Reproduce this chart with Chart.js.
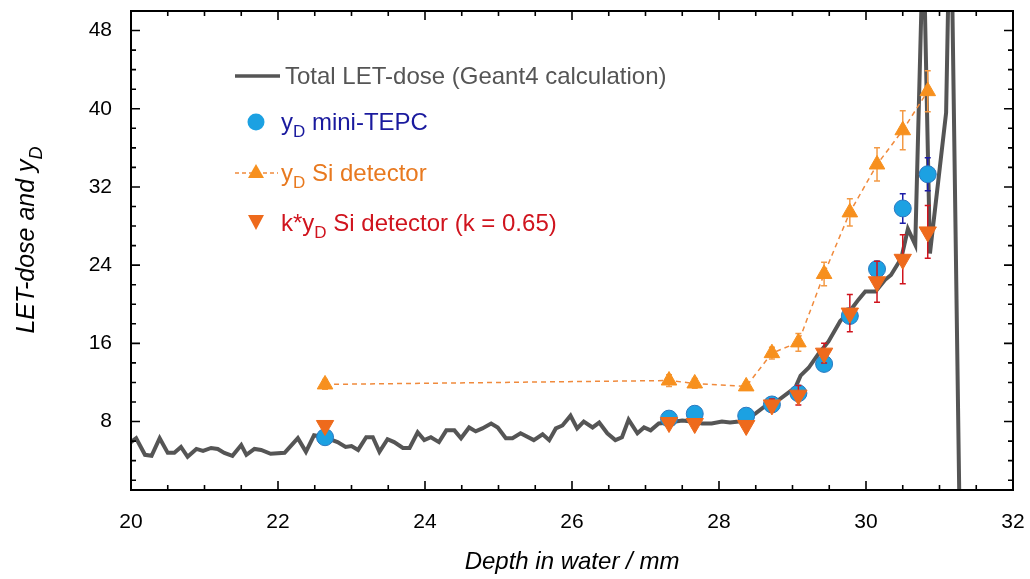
<!DOCTYPE html>
<html lang="en">
<head>
  <meta charset="UTF-8">
  <title>LET-dose and yD vs depth</title>
  <script src="https://cdn.jsdelivr.net/npm/chart.js"></script>
  <style>
    body { margin: 0; background: #fff; }
    canvas { display: block; }
  </style>
</head>
<body>
<canvas id="myChart" width="1030" height="579"></canvas>

<script>
  // Geant4 total LET-dose curve
  const letDepth = [
    20.00, 20.07, 20.19, 20.28, 20.39, 20.50, 20.59, 20.68, 20.77, 20.89,
    20.98, 21.09, 21.18, 21.27, 21.38, 21.50, 21.57, 21.68, 21.77, 21.90,
    22.09, 22.27, 22.38, 22.49, 22.63, 22.81, 22.92, 23.00, 23.09, 23.20,
    23.29, 23.38, 23.49, 23.58, 23.70, 23.79, 23.90, 23.99, 24.08, 24.19,
    24.29, 24.40, 24.49, 24.60, 24.69, 24.78, 24.90, 24.99, 25.10, 25.19,
    25.30, 25.48, 25.60, 25.69, 25.78, 25.87, 25.98, 26.07, 26.16, 26.28,
    26.37, 26.48, 26.59, 26.68, 26.77, 26.89, 26.98, 27.07, 27.18, 27.32,
    27.50, 27.63, 27.77, 27.90, 28.04, 28.15, 28.27, 28.49, 28.63, 28.81,
    29.04, 29.11, 29.22, 29.35, 29.49, 29.65, 29.76, 29.90, 29.99, 30.13,
    30.26, 30.34, 30.48, 30.57, 30.67, 30.78, 30.87, 31.09, 31.15, 31.27
  ];
  const letDose = [
    5.9, 6.3, 4.6, 4.5, 6.3, 4.8, 4.8, 5.4, 4.4, 5.2,
    5.0, 5.3, 5.2, 4.8, 4.5, 5.6, 4.6, 5.2, 5.1, 4.7,
    4.8, 6.3, 4.9, 6.6, 6.4, 5.9, 5.4, 5.5, 5.1, 6.4,
    6.4, 4.9, 6.2, 5.9, 5.3, 5.3, 6.9, 6.1, 6.4, 5.9,
    7.1, 7.1, 6.3, 7.4, 7.0, 7.3, 7.8, 7.4, 6.3, 6.3,
    6.8, 6.1, 6.7, 6.1, 7.3, 7.6, 8.6, 7.3, 8.0, 7.4,
    7.9, 6.8, 6.1, 6.4, 8.2, 6.8, 7.4, 7.1, 7.8, 7.9,
    8.1, 8.0, 7.8, 7.8, 8.0, 7.9, 8.0, 8.8, 9.6, 10.2,
    11.5, 12.7, 13.5, 14.9, 16.2, 18.3, 19.1, 20.5, 21.3, 21.3,
    22.5, 23.0, 24.7, 27.7, 26.1, 58, 25.2, 39.6, 64, 0
  ];

  // measured points
  const depth   = [22.64, 27.32, 27.67, 28.37, 28.72, 29.08, 29.43, 29.78, 30.15, 30.50, 30.84];
  const tepc    = [6.4, 8.3, 8.8, 8.6, 9.75, 10.9, 13.9, 18.8, 23.6, 29.8, 33.3];
  const tepcErr = [0.3, 0.3, 0.3, 0.3, 0.3, 0.4, 0.5, 0.6, 0.7, 1.5, 1.7];
  const siYd    = [11.8, 12.2, 11.9, 11.6, 15.0, 16.1, 23.1, 29.4, 34.3, 37.8, 41.8];
  const siErr   = [0.5, 0.6, 0.5, 0.4, 0.6, 0.9, 1.2, 1.4, 1.7, 2.0, 2.1];
  const siK     = [7.6, 7.9, 7.8, 7.6, 9.7, 10.7, 15.0, 19.1, 22.3, 24.6, 27.4];
  const siKErr  = [0.3, 0.4, 0.4, 0.4, 0.6, 1.0, 1.0, 1.9, 2.1, 2.5, 2.7];

  const yTicks = [8, 16, 24, 32, 40, 48];

  const FONT = '"Liberation Sans", Arial, sans-serif';
  const GREY = '#555555';
  const BLUE = '#1ca1e2';
  const ORANGE = '#f7901e';
  const RED_OR = '#ee6a1c';

  const pts = (xs, ys) => xs.map((x, i) => ({ x: x, y: ys[i] }));

  // error bars per dataset index, drawn just before that dataset's markers
  const errSets = {
    1: { v: tepc, e: tepcErr, c: '#1c1ca8' },
    2: { v: siYd, e: siErr, c: '#f39a45' },
    3: { v: siK, e: siKErr, c: '#d0141e' }
  };
  const errorBars = {
    id: 'errorBars',
    beforeDatasetDraw(chart, args) {
      const s = errSets[args.index];
      if (!s) return;
      const { ctx, scales: { x, y } } = chart;
      ctx.save();
      ctx.lineWidth = 1.5;
      ctx.strokeStyle = s.c;
      depth.forEach((d, i) => {
        const px = x.getPixelForValue(d);
        const y1 = y.getPixelForValue(s.v[i] + s.e[i]);
        const y2 = y.getPixelForValue(s.v[i] - s.e[i]);
        ctx.beginPath();
        ctx.moveTo(px, y1); ctx.lineTo(px, y2);
        ctx.moveTo(px - 3, y1); ctx.lineTo(px + 3, y1);
        ctx.moveTo(px - 3, y2); ctx.lineTo(px + 3, y2);
        ctx.stroke();
      });
      ctx.restore();
    }
  };

  // text with a subscript part
  function richText(ctx, parts, x, y, size, italic) {
    let cx = x;
    parts.forEach(p => {
      const fs = p.sub ? Math.round(size * 0.72) : size;
      ctx.font = (italic ? 'italic ' : '') + fs + 'px ' + FONT;
      ctx.fillText(p.t, cx, p.sub ? y + size * 0.38 : y);
      cx += ctx.measureText(p.t).width;
    });
  }
  function richWidth(ctx, parts, size, italic) {
    let w = 0;
    parts.forEach(p => {
      const fs = p.sub ? Math.round(size * 0.72) : size;
      ctx.font = (italic ? 'italic ' : '') + fs + 'px ' + FONT;
      w += ctx.measureText(p.t).width;
    });
    return w;
  }

  // frame, inward ticks, axis titles, legend
  const decor = {
    id: 'decor',
    afterDraw(chart) {
      const { ctx, chartArea: a, scales: { x, y } } = chart;
      ctx.save();
      ctx.strokeStyle = '#000';
      ctx.lineWidth = 1.6;
      ctx.beginPath();
      for (let v = 20; v <= 32.001; v += 0.5) {
        const px = x.getPixelForValue(v);
        const len = Math.abs(v % 2) < 0.01 ? 9 : 5;
        ctx.moveTo(px, a.bottom); ctx.lineTo(px, a.bottom - len);
        ctx.moveTo(px, a.top); ctx.lineTo(px, a.top + len);
      }
      for (let v = 2; v <= 50; v += 2) {
        const py = y.getPixelForValue(v);
        const len = v % 8 === 0 ? 9 : 5;
        ctx.moveTo(a.left, py); ctx.lineTo(a.left + len, py);
        ctx.moveTo(a.right, py); ctx.lineTo(a.right - len, py);
      }
      ctx.stroke();
      ctx.lineWidth = 2;
      ctx.strokeRect(a.left, a.top, a.right - a.left, a.bottom - a.top);

      // axis titles
      ctx.fillStyle = '#000';
      ctx.textBaseline = 'middle';
      ctx.textAlign = 'center';
      ctx.font = 'italic 24px ' + FONT;
      ctx.fillText('Depth in water / mm', (a.left + a.right) / 2, 562);

      const yTitle = [{ t: 'LET-dose and y' }, { t: 'D', sub: true }];
      ctx.save();
      ctx.translate(27, 240);
      ctx.rotate(-Math.PI / 2);
      ctx.textAlign = 'left';
      const w = richWidth(ctx, yTitle, 25, true);
      richText(ctx, yTitle, -w / 2, 0, 25, true);
      ctx.restore();

      // legend
      ctx.textAlign = 'left';
      ctx.lineWidth = 3.5;
      ctx.strokeStyle = GREY;
      ctx.beginPath(); ctx.moveTo(235, 76); ctx.lineTo(280, 76); ctx.stroke();
      ctx.fillStyle = GREY;
      richText(ctx, [{ t: 'Total LET-dose (Geant4 calculation)' }], 285, 77, 24, false);

      ctx.fillStyle = BLUE;
      ctx.beginPath(); ctx.arc(256, 122, 8.5, 0, Math.PI * 2); ctx.fill();
      ctx.fillStyle = '#1a1a9e';
      richText(ctx, [{ t: 'y' }, { t: 'D', sub: true }, { t: ' mini-TEPC' }], 281, 123, 24, false);

      ctx.strokeStyle = '#f08a3c';
      ctx.lineWidth = 1.5;
      ctx.setLineDash([4, 3]);
      ctx.beginPath(); ctx.moveTo(235, 173); ctx.lineTo(278, 173); ctx.stroke();
      ctx.setLineDash([]);
      ctx.fillStyle = ORANGE;
      ctx.beginPath();
      ctx.moveTo(256, 164); ctx.lineTo(264, 178); ctx.lineTo(248, 178); ctx.closePath(); ctx.fill();
      ctx.fillStyle = '#e8791f';
      richText(ctx, [{ t: 'y' }, { t: 'D', sub: true }, { t: ' Si detector' }], 281, 174, 24, false);

      ctx.fillStyle = RED_OR;
      ctx.beginPath();
      ctx.moveTo(248, 215); ctx.lineTo(264, 215); ctx.lineTo(256, 230); ctx.closePath(); ctx.fill();
      ctx.fillStyle = '#d0141e';
      richText(ctx, [{ t: 'k*y' }, { t: 'D', sub: true }, { t: ' Si detector (k = 0.65)' }], 281, 224, 24, false);
      ctx.restore();
    }
  };

  const noPad = s => { s.paddingTop = 0; s.paddingBottom = 0; s.paddingLeft = 0; s.paddingRight = 0; };

  const ctx = document.getElementById('myChart').getContext('2d');
  const myChart = new Chart(ctx, {
    type: 'scatter',
    data: {
      datasets: [
        {
          label: 'Total LET-dose (Geant4 calculation)',
          data: pts(letDepth, letDose),
          order: 4,
          showLine: true,
          borderColor: GREY,
          borderWidth: 4,
          pointRadius: 0,
          tension: 0
        },
        {
          label: 'yD mini-TEPC',
          data: pts(depth, tepc),
          order: 3,
          pointStyle: 'circle',
          pointRadius: 8.5,
          pointBackgroundColor: BLUE,
          pointBorderColor: '#2a78c0',
          pointBorderWidth: 1
        },
        {
          label: 'yD Si detector',
          data: pts(depth, siYd),
          order: 2,
          showLine: true,
          borderColor: '#f08a3c',
          borderWidth: 1.5,
          borderDash: [5, 4],
          pointStyle: 'triangle',
          pointRadius: 9,
          pointBackgroundColor: ORANGE,
          pointBorderColor: ORANGE,
          pointBorderWidth: 1
        },
        {
          label: 'k*yD Si detector (k = 0.65)',
          data: pts(depth, siK),
          order: 1,
          pointStyle: 'triangle',
          rotation: 180,
          pointRadius: 10,
          pointBackgroundColor: RED_OR,
          pointBorderColor: RED_OR,
          pointBorderWidth: 1
        }
      ]
    },
    options: {
      responsive: false,
      animation: false,
      devicePixelRatio: 1,
      layout: { padding: { top: 8, right: 17, left: 0, bottom: 0 } },
      plugins: { legend: { display: false }, tooltip: { enabled: false } },
      scales: {
        x: {
          type: 'linear',
          min: 20,
          max: 32,
          grid: { display: false, drawTicks: false },
          border: { display: false },
          ticks: { stepSize: 2, color: '#000', padding: 20, font: { family: FONT, size: 21 } },
          afterFit(s) { s.height = 89; noPad(s); }
        },
        y: {
          min: 1,
          max: 50,
          grid: { display: false, drawTicks: false },
          border: { display: false },
          afterBuildTicks(s) { s.ticks = yTicks.map(v => ({ value: v })); },
          ticks: { color: '#000', padding: 19, font: { family: FONT, size: 21 } },
          afterFit(s) { s.width = 131; noPad(s); }
        }
      }
    },
    plugins: [errorBars, decor]
  });
</script>

</body>
</html>
